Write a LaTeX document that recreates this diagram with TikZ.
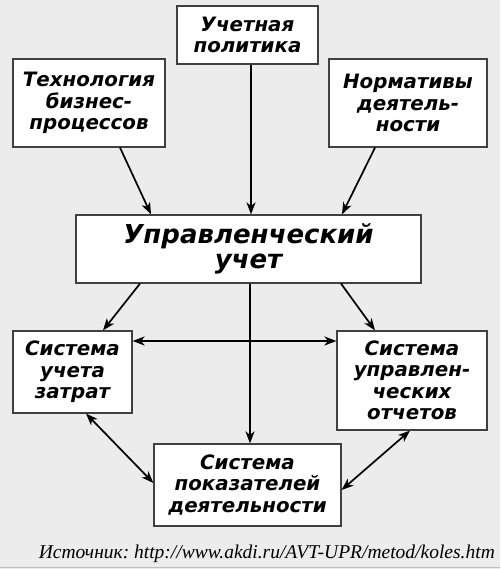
\documentclass[tikz,border=0pt]{standalone}
\usepackage{fontspec}
\setmainfont{Liberation Serif}
\newfontface\boxfont{DejaVu Sans Bold Oblique}
\usetikzlibrary{arrows.meta,calc}
\definecolor{bgc}{HTML}{ECECEC}
\definecolor{edge}{HTML}{404040}
\tikzset{
  box/.style={draw=edge, line width=1.2pt, fill=white, rectangle, inner sep=0pt, align=center,
    font=\boxfont\fontsize{19.8}{21.5}\selectfont},
  bigbox/.style={box, font=\boxfont\fontsize{26}{25}\selectfont},
  conn/.style={line width=1.7pt, -{Stealth[length=12pt,width=9pt,inset=3.5pt]}},
  dconn/.style={line width=1.7pt, {Stealth[length=12pt,width=9pt,inset=3.5pt]}-{Stealth[length=12pt,width=9pt,inset=3.5pt]}}
}
\begin{document}
\begin{tikzpicture}[x=1pt,y=-1pt]
\fill[bgc] (0,0) rectangle (500,569);
\useasboundingbox (0,0) rectangle (500,569);
\draw[black!25, line width=1pt] (0,567.5) -- (500,567.5);

\node[box, minimum width=141pt, minimum height=58pt] (pol) at (247.5,35) {Учетная\\политика};
\node[box, minimum width=152pt, minimum height=88pt] (tech) at (89,103) {Технология\\бизнес-\\процессов};
\node[box, minimum width=158pt, minimum height=88pt] (norm) at (408,103) {Нормативы\\деятель-\\ности};
\node[bigbox, minimum width=345pt, minimum height=68pt] (upr) at (248.5,249) {Управленческий\\учет};
\node[box, minimum width=119pt, minimum height=82pt] (zat) at (72.5,372) {Система\\учета\\затрат};
\node[box, minimum width=150pt, minimum height=99pt] (otch) at (412,380.5) {Система\\управлен-\\ческих\\отчетов};
\node[box, minimum width=187pt, minimum height=82pt] (pok) at (247.5,485) {Система\\показателей\\деятельности};

\node[anchor=base east, inner sep=0pt, font=\itshape\fontsize{19.5}{21}\selectfont\frenchspacing] (src) at (495,558) {Источник: http://www.akdi.ru/AVT-UPR/metod/koles.htm};

\draw[conn] ([xshift=31pt]tech.south) -- ([xshift=-97.5pt]upr.north);
\draw[conn] ([xshift=3.5pt]pol.south) -- ([xshift=2.5pt]upr.north);
\draw[conn] ([xshift=-33pt]norm.south) -- ([xshift=93.5pt]upr.north);
\draw[conn] ([xshift=-108.5pt]upr.south) -- ([xshift=30.5pt]zat.north);
\draw[conn] ([xshift=92.5pt]upr.south) -- ([xshift=-37pt]otch.north);
\draw[conn] ([xshift=1.5pt]upr.south) -- ([xshift=2.5pt]pok.north);
\draw[dconn] ([yshift=31pt]zat.east) -- ([yshift=39.5pt]otch.west);
\draw[dconn] ([xshift=13.5pt]zat.south) -- ([yshift=2pt]pok.west);
\draw[dconn] ([xshift=-2pt]otch.south) -- ([yshift=-5pt]pok.east);
\end{tikzpicture}
\end{document}
